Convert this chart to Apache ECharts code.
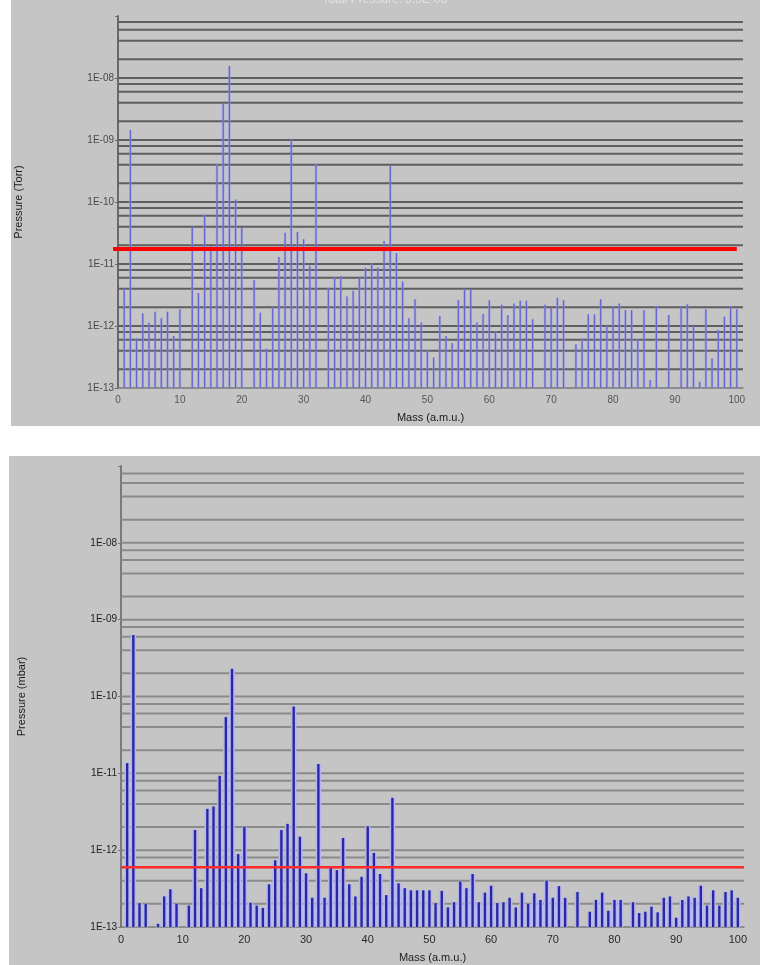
<!DOCTYPE html>
<html>
<head>
<meta charset="utf-8">
<script src="https://cdn.jsdelivr.net/npm/echarts@6/dist/echarts.min.js"></script>
<style>
html,body{margin:0;padding:0;background:#ffffff;}
#chart{width:760px;height:965px;}
</style>
</head>
<body>
<div id="chart"></div>
<script>
// ---- data ----
const masses = Array.from({length: 100}, (_, i) => i + 1);
// Top panel: Pressure (Torr), index = mass - 1, null = no peak drawn
const pressureTorr = [
  4.0e-12, 1.45e-9, 6.3e-13, 1.6e-12, 1.13e-12, 1.7e-12, 1.33e-12, 1.7e-12, 6.9e-13, 1.87e-12,
  null, 4.0e-11, 3.4e-12, 6.2e-11, 1.95e-11, 4.1e-10, 3.9e-9, 1.56e-8, 1.1e-10, 3.8e-11,
  null, 5.5e-12, 1.63e-12, 4.3e-13, 2.0e-12, 1.3e-11, 3.2e-11, 1.02e-9, 3.3e-11, 2.5e-11,
  9.4e-12, 4.1e-10, null, 4.1e-12, 6.1e-12, 6.4e-12, 3.0e-12, 3.7e-12, 6.0e-12, 8.7e-12,
  1.02e-11, 8.7e-12, 2.35e-11, 3.8e-10, 1.5e-11, 5.2e-12, 1.33e-12, 2.7e-12, 1.14e-12, 4.1e-13,
  3.1e-13, 1.45e-12, 6.9e-13, 5.3e-13, 2.6e-12, 4.0e-12, 3.9e-12, 1.14e-12, 1.56e-12, 2.6e-12,
  8.3e-13, 2.2e-12, 1.5e-12, 2.3e-12, 2.55e-12, 2.55e-12, 1.28e-12, null, 2.2e-12, 1.93e-12,
  2.85e-12, 2.6e-12, null, 5.1e-13, 6.3e-13, 1.54e-12, 1.54e-12, 2.7e-12, 1.0e-12, 2.05e-12,
  2.3e-12, 1.8e-12, 1.8e-12, 6.1e-13, 1.8e-12, 1.35e-13, 2.1e-12, null, 1.5e-12, null,
  2.0e-12, 2.24e-12, 1.0e-12, 1.26e-13, 1.86e-12, 3.0e-13, 8.6e-13, 1.41e-12, 2.1e-12, 1.86e-12
];
// Bottom panel: Pressure (mbar)
const pressureMbar = [
  1.36e-11, 6.3e-10, 2.05e-13, 2.0e-13, null, 1.1e-13, 2.5e-13, 3.1e-13, 2.0e-13, null,
  1.9e-13, 1.83e-12, 3.2e-13, 3.45e-12, 3.7e-12, 9.3e-12, 5.4e-11, 2.3e-10, 8.9e-13, 2.0e-12,
  2.07e-13, 1.9e-13, 1.77e-13, 3.6e-13, 7.4e-13, 1.83e-12, 2.2e-12, 7.4e-11, 1.5e-12, 5.0e-13,
  2.4e-13, 1.32e-11, 2.4e-13, 5.9e-13, 5.5e-13, 1.44e-12, 3.6e-13, 2.5e-13, 4.5e-13, 2.05e-12,
  9.2e-13, 4.9e-13, 2.6e-13, 4.8e-12, 3.7e-13, 3.2e-13, 3.0e-13, 3.0e-13, 3.0e-13, 3.0e-13,
  2.05e-13, 2.95e-13, 1.8e-13, 2.1e-13, 3.9e-13, 3.2e-13, 4.9e-13, 2.1e-13, 2.8e-13, 3.45e-13,
  2.05e-13, 2.1e-13, 2.4e-13, 1.8e-13, 2.8e-13, 2.0e-13, 2.75e-13, 2.25e-13, 4.0e-13, 2.4e-13,
  3.4e-13, 2.4e-13, null, 2.85e-13, null, 1.58e-13, 2.25e-13, 2.8e-13, 1.63e-13, 2.25e-13,
  2.25e-13, null, 2.1e-13, 1.52e-13, 1.58e-13, 1.84e-13, 1.55e-13, 2.4e-13, 2.5e-13, 1.32e-13,
  2.25e-13, 2.5e-13, 2.4e-13, 3.45e-13, 1.9e-13, 3.0e-13, 1.9e-13, 2.85e-13, 3.0e-13, 2.4e-13
];
// Threshold (red) levels
const thresholdTorr = 1.75e-11;
const thresholdMbar = 6.0e-13;
// Axis settings / tick labels
const yMin = 1e-13, yMax = 1e-7;
const decadeExponents = [-13, -12, -11, -10, -9, -8];
const gridFactors = [1, 2, 4, 6, 8];
const xMin = 0, xMax = 101, xInterval = 10;

// ---- helpers ----
const gridLevels = [];
decadeExponents.forEach(e => gridFactors.forEach(f => {
  const v = f * Math.pow(10, e);
  if (v > yMin * 1.01) gridLevels.push(v);
}));
function pairs(vals) {
  return masses.map((m, i) => [m, vals[i]]).filter(d => d[1] != null);
}
function fmtY(v) {
  const e = Math.round(Math.log10(v));
  if (e === -7) return '';
  const a = Math.abs(e);
  return '1E' + (e < 0 ? '-' : '+') + (a < 10 ? '0' + a : a);
}
function gridSeries(idx, color, width) {
  return {
    type: 'custom', xAxisIndex: idx, yAxisIndex: idx, silent: true, z: 1,
    data: gridLevels.map(v => [v]),
    renderItem: function (params, api) {
      const v = api.value(0);
      const p1 = api.coord([xMin, v]);
      const p2 = api.coord([xMax, v]);
      return { type: 'line', shape: {x1: p1[0], y1: p1[1], x2: p2[0], y2: p2[1]},
               style: {stroke: color, lineWidth: width} };
    }
  };
}
function barSeries(idx, vals, haloColor, haloW, color, w) {
  return {
    type: 'custom', xAxisIndex: idx, yAxisIndex: idx, z: 3,
    data: pairs(vals),
    renderItem: function (params, api) {
      const top = api.coord([api.value(0), api.value(1)]);
      const base = api.coord([api.value(0), yMin]);
      const children = [];
      if (haloW > 0) children.push({ type: 'line',
        shape: {x1: top[0], y1: base[1], x2: top[0], y2: top[1]},
        style: {stroke: haloColor, lineWidth: haloW} });
      children.push({ type: 'line',
        shape: {x1: top[0], y1: base[1], x2: top[0], y2: top[1]},
        style: {stroke: color, lineWidth: w} });
      return { type: 'group', children: children };
    }
  };
}
function thresholdSeries(idx, level, x0, x1, color, width) {
  return {
    type: 'custom', xAxisIndex: idx, yAxisIndex: idx, z: 5, silent: true, clip: false,
    data: [[level]],
    renderItem: function (params, api) {
      const p1 = api.coord([x0, api.value(0)]);
      const p2 = api.coord([x1, api.value(0)]);
      return { type: 'line', shape: {x1: p1[0], y1: p1[1], x2: p2[0], y2: p2[1]},
               style: {stroke: color, lineWidth: width} };
    }
  };
}
const FONT = 'Liberation Sans, Arial, sans-serif';
function xAxisDef(idx, labelColor, labelSize, nameGap) {
  return {
    type: 'value', gridIndex: idx, min: xMin, max: xMax, interval: xInterval,
    name: 'Mass (a.m.u.)', nameLocation: 'middle', nameGap: nameGap,
    nameTextStyle: {fontFamily: FONT, fontSize: 11, color: '#1a1a1a'},
    axisLine: {show: true, lineStyle: {color: '#7a7a7a', width: 1.5}},
    axisTick: {show: false},
    splitLine: {show: false},
    axisLabel: {fontFamily: FONT, fontSize: labelSize, color: labelColor, margin: 7,
      formatter: v => (v % 10 === 0 ? String(v) : '')}
  };
}
function yAxisDef(idx, name, labelColor, labelSize, lineColor) {
  return {
    type: 'log', logBase: 10, gridIndex: idx, min: yMin, max: yMax, splitNumber: 6,
    name: name, nameLocation: 'middle', nameGap: 94,
    nameTextStyle: {fontFamily: FONT, fontSize: 11, color: '#1a1a1a'},
    axisLine: {show: true, onZero: false, lineStyle: {color: lineColor, width: 2}},
    axisTick: {show: true, length: 3, lineStyle: {color: lineColor}},
    splitLine: {show: false},
    minorTick: {show: false},
    axisLabel: {fontFamily: FONT, fontSize: labelSize, color: labelColor, margin: 4, formatter: fmtY}
  };
}

const chart = echarts.init(document.getElementById('chart'), null, {renderer: 'canvas'});
chart.setOption({
  animation: false,
  backgroundColor: '#ffffff',
  graphic: [
    {type: 'rect', z: -10, shape: {x: 11, y: 0, width: 749, height: 426}, style: {fill: '#c5c5c5'}},
    {type: 'rect', z: -10, shape: {x: 9, y: 456, width: 751, height: 509}, style: {fill: '#c5c5c5'}},
    {type: 'text', z: 10, left: 322, top: -6,
      style: {text: 'Total Pressure: 3.5E-08', fontFamily: FONT, fontSize: 12, fill: '#e2e2e2'}}
  ],
  grid: [
    {left: 118, right: 17, top: 16, height: 372},
    {left: 121, right: 16, top: 466, height: 461}
  ],
  xAxis: [
    xAxisDef(0, '#555555', 10, 24),
    xAxisDef(1, '#2a2a2a', 11, 25)
  ],
  yAxis: [
    yAxisDef(0, 'Pressure (Torr)', '#4a4a4a', 10, '#6a6a6a'),
    yAxisDef(1, 'Pressure (mbar)', '#1e1e1e', 10, '#7a7a7a')
  ],
  series: [
    gridSeries(0, '#5e5e5e', 2),
    gridSeries(1, '#8a8a8a', 2),
    barSeries(0, pressureTorr, 'rgba(150,150,235,0.6)', 2.5, '#6464d4', 1.2),
    barSeries(1, pressureMbar, '#b6b6ee', 5.5, '#2828a6', 2.4),
    thresholdSeries(0, thresholdTorr, -0.8, 100, '#ff0000', 4),
    thresholdSeries(1, thresholdMbar, 0, xMax, '#ff2a2a', 2.5)
  ]
});
</script>
</body>
</html>
